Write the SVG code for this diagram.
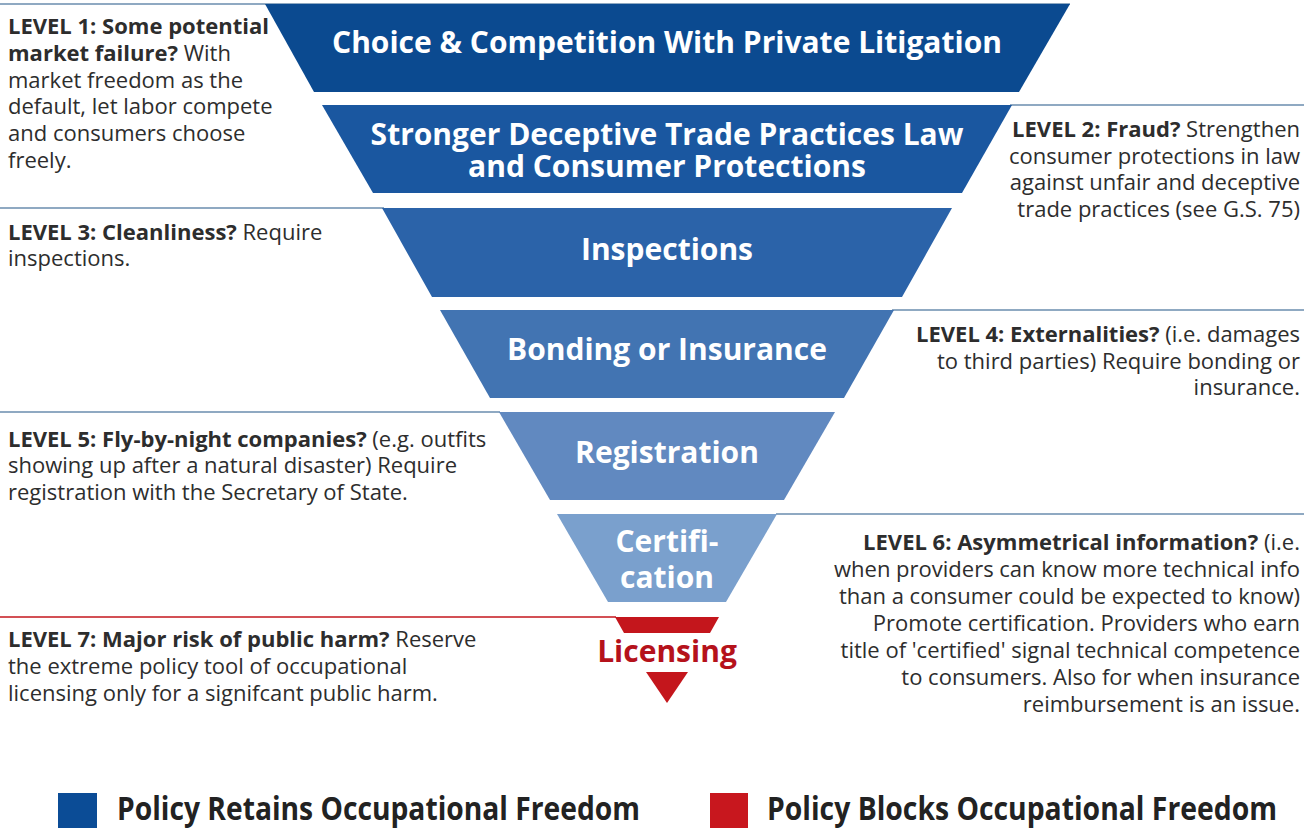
<svg xmlns="http://www.w3.org/2000/svg" width="1304" height="828" viewBox="0 0 1304 828">
  <style>
    .note { font-family: "Open Sans", "Liberation Sans", sans-serif; font-size: 22px; fill: #2d2d2d; }
    .note .b { font-weight: 700; }
    .title { font-family: "Open Sans", "Liberation Sans", sans-serif; font-size: 30px; font-weight: 700; fill: #ffffff; text-anchor: middle; }
    .rule { stroke: #8fa9c2; stroke-width: 2; fill: none; }
    .rule-red { stroke: #c4161c; stroke-width: 1.5; fill: none; }
    .legend { font-family: "Open Sans", "Liberation Sans", sans-serif; font-size: 32px; font-weight: 700; fill: #222222; }
  </style>

  <rect width="1304" height="828" fill="#ffffff"/>

  <!-- level divider rules -->
  <g id="dividers">
    <line class="rule" x1="0" y1="4" x2="1070" y2="4"/>
    <line class="rule" x1="1010" y1="105" x2="1304" y2="105"/>
    <line class="rule" x1="0" y1="208" x2="384" y2="208"/>
    <line class="rule" x1="892" y1="310" x2="1304" y2="310"/>
    <line class="rule" x1="0" y1="412" x2="500" y2="412"/>
    <line class="rule" x1="776" y1="514" x2="1304" y2="514"/>
    <line class="rule-red" x1="0" y1="617" x2="616" y2="617"/>
  </g>

  <!-- funnel tiers -->
  <g id="tier1">
    <polygon points="265,4 1070,4 1019,92 314,92" fill="#0b4a90"/>
    <text class="title" x="667" y="53">Choice &amp; Competition With Private Litigation</text>
  </g>
  <g id="tier2">
    <polygon points="322,105 1012,105 962,193 373,193" fill="#1a57a0"/>
    <text class="title" x="667" y="145">Stronger Deceptive Trade Practices Law<tspan x="667" dy="32">and Consumer Protections</tspan></text>
  </g>
  <g id="tier3">
    <polygon points="382,208 952,208 902,297 432,297" fill="#2b63a9"/>
    <text class="title" x="667" y="260">Inspections</text>
  </g>
  <g id="tier4">
    <polygon points="440,310 894,310 844,398 490,398" fill="#4274b2"/>
    <text class="title" x="667" y="360">Bonding or Insurance</text>
  </g>
  <g id="tier5">
    <polygon points="499,412 835,412 784,500 550,500" fill="#6189c0"/>
    <text class="title" x="667" y="463">Registration</text>
  </g>
  <g id="tier6">
    <polygon points="557,514 777,514 726,602 608,602" fill="#7aa0cd"/>
    <text class="title" x="667" y="552">Certifi-<tspan x="667" dy="36">cation</tspan></text>
  </g>
  <g id="tier7">
    <polygon points="615,617 719,617 710,633 624,633" fill="#c4161c"/>
    <polygon points="646,672 688,672 667,703" fill="#c4161c"/>
    <text class="title" x="667" y="662" style="fill:#b5121b">Licensing</text>
  </g>

  <!-- level descriptions -->
  <g id="level1">
    <text class="note" x="8" y="34"><tspan class="b">LEVEL 1: Some potential</tspan><tspan x="8" y="61" class="b">market failure?</tspan> With<tspan x="8" y="88">market freedom as the</tspan><tspan x="8" y="114">default, let labor compete</tspan><tspan x="8" y="141">and consumers choose</tspan><tspan x="8" y="168">freely.</tspan></text>
  </g>
  <g id="level2" text-anchor="end">
    <text class="note" x="1300" y="137"><tspan class="b">LEVEL 2: Fraud?</tspan> Strengthen<tspan x="1300" y="164">consumer protections in law</tspan><tspan x="1300" y="190">against unfair and deceptive</tspan><tspan x="1300" y="217">trade practices (see G.S. 75)</tspan></text>
  </g>
  <g id="level3">
    <text class="note" x="8" y="240"><tspan class="b">LEVEL 3: Cleanliness?</tspan> Require<tspan x="8" y="266">inspections.</tspan></text>
  </g>
  <g id="level4" text-anchor="end">
    <text class="note" x="1300" y="342"><tspan class="b">LEVEL 4: Externalities?</tspan> (i.e. damages<tspan x="1300" y="369">to third parties) Require bonding or</tspan><tspan x="1300" y="395">insurance.</tspan></text>
  </g>
  <g id="level5">
    <text class="note" x="8" y="447"><tspan class="b">LEVEL 5: Fly-by-night companies?</tspan> (e.g. outfits<tspan x="8" y="473">showing up after a natural disaster) Require</tspan><tspan x="8" y="500">registration with the Secretary of State.</tspan></text>
  </g>
  <g id="level6" text-anchor="end">
    <text class="note" x="1300" y="550"><tspan class="b">LEVEL 6: Asymmetrical information?</tspan> (i.e.<tspan x="1300" y="577">when providers can know more technical info</tspan><tspan x="1300" y="604">than a consumer could be expected to know)</tspan><tspan x="1300" y="631">Promote certification. Providers who earn</tspan><tspan x="1300" y="658">title of 'certified' signal technical competence</tspan><tspan x="1300" y="685">to consumers. Also for when insurance</tspan><tspan x="1300" y="712">reimbursement is an issue.</tspan></text>
  </g>
  <g id="level7">
    <text class="note" x="8" y="647"><tspan class="b">LEVEL 7: Major risk of public harm?</tspan> Reserve<tspan x="8" y="674">the extreme policy tool of occupational</tspan><tspan x="8" y="701">licensing only for a signifcant public harm.</tspan></text>
  </g>

  <!-- legend -->
  <g id="legend">
    <rect x="58" y="793" width="39" height="35" fill="#0b4c96"/>
    <text class="legend" x="117" y="820" textLength="523" lengthAdjust="spacingAndGlyphs">Policy Retains Occupational Freedom</text>
    <rect x="710" y="793" width="38" height="35" fill="#c8171e"/>
    <text class="legend" x="767" y="820" textLength="510" lengthAdjust="spacingAndGlyphs">Policy Blocks Occupational Freedom</text>
  </g>
</svg>
